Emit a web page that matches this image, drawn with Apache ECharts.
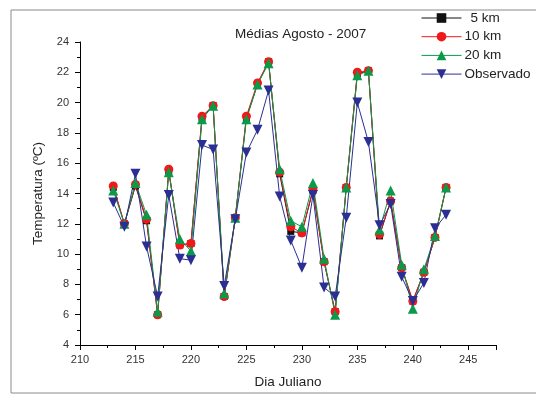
<!DOCTYPE html>
<html>
<head>
<meta charset="utf-8">
<script src="https://cdn.jsdelivr.net/npm/echarts@6/dist/echarts.min.js"></script>
<style>
  html, body { margin: 0; padding: 0; background: #fff; }
  #chart { width: 536px; height: 394px; }
</style>
</head>
<body>
<div id="chart"></div>
<script>
// Julian day of each daily mean
const days = [213, 214, 215, 216, 217, 218, 219, 220, 221, 222, 223, 224, 225, 226, 227, 228,
              229, 230, 231, 232, 233, 234, 235, 236, 237, 238, 239, 240, 241, 242, 243];

// Modelled mean temperature (ºC) at three grid resolutions
const km5  = [14.4, 12.0, 14.5, 12.2, 6.0, 15.5, 10.6, 10.7, 19.0, 19.8, 7.2, 12.4, 19.0, 21.2, 22.7, 15.3,
              11.5, 11.4, 14.2, 9.5, 6.2, 14.4, 21.9, 22.1, 11.2, 13.5, 9.1, 6.9, 8.8, 11.1, 14.4];
const km10 = [14.5, 12.0, 14.6, 12.3, 6.0, 15.6, 10.6, 10.7, 19.1, 19.8, 7.2, 12.4, 19.1, 21.3, 22.7, 15.4,
              11.8, 11.4, 14.3, 9.5, 6.2, 14.4, 22.0, 22.1, 11.3, 13.5, 9.1, 6.9, 8.8, 11.1, 14.4];
const km20 = [14.2, 12.0, 14.7, 12.6, 6.2, 15.4, 11.0, 10.2, 18.9, 19.8, 7.4, 12.4, 18.9, 21.2, 22.6, 15.6,
              12.2, 11.8, 14.7, 9.7, 6.0, 14.4, 21.8, 22.1, 11.6, 14.2, 9.3, 6.4, 9.0, 11.2, 14.4];
// Observed mean temperature (ºC)
const observado = [13.4, 11.8, 15.3, 10.5, 7.2, 13.9, 9.7, 9.6, 17.2, 16.9, 7.9, 12.3, 16.7, 18.2, 20.8, 13.8,
                   10.9, 9.1, 13.9, 7.8, 7.2, 12.4, 20.0, 17.4, 11.9, 13.3, 8.5, 6.9, 8.1, 11.7, 12.6];

const pairs = arr => days.map((d, i) => [d, arr[i]]);

const font = 'Liberation Sans, Arial, sans-serif';

function lineSeries(name, values, color, symbol, size, rotate) {
  return {
    name: name,
    type: 'line',
    data: pairs(values),
    symbol: symbol,
    symbolSize: size,
    symbolRotate: rotate || 0,
    showSymbol: true,
    lineStyle: { color: color, width: 1 },
    itemStyle: { color: color, borderWidth: 0 },
    emphasis: { disabled: true },
    animation: false
  };
}

const chart = echarts.init(document.getElementById('chart'), null, { renderer: 'canvas' });

chart.setOption({
  backgroundColor: '#ffffff',
  animation: false,
  title: {
    text: 'Médias Agosto - 2007',
    left: 230,
    top: 22,
    textStyle: { fontFamily: font, fontSize: 13.5, fontWeight: 'normal', color: '#222' }
  },
  graphic: [{
    type: 'rect',
    shape: { x: 11, y: 10, width: 600, height: 383 },
    style: { fill: 'none', stroke: '#8a8a8a', lineWidth: 1 },
    z: -1,
    silent: true
  }],
  legend: {
    orient: 'vertical',
    left: 421,
    top: 11,
    padding: 0,
    itemWidth: 40,
    itemHeight: 12,
    itemGap: 4.7,
    lineStyle: { width: 1 },
    textStyle: { fontFamily: font, fontSize: 13.5, color: '#222', padding: [0, 0, 0, -2] },
    data: [
      { name: '5 km', textStyle: { padding: [0, 0, 0, 4] } },
      { name: '10 km' },
      { name: '20 km' },
      { name: 'Observado' }
    ]
  },
  grid: { left: 80, right: 40, top: 42, bottom: 48 },
  xAxis: {
    type: 'value',
    min: 210,
    max: 247.5,
    interval: 5,
    name: 'Dia Juliano',
    nameLocation: 'middle',
    nameGap: 30,
    nameTextStyle: { fontFamily: font, fontSize: 13.5, color: '#222' },
    axisLine: { show: true, onZero: false, lineStyle: { color: '#000', width: 1 } },
    axisTick: { show: true, inside: false, length: 5, lineStyle: { color: '#000' } },
    minorTick: { show: true, splitNumber: 2, length: 3, lineStyle: { color: '#000' } },
    axisLabel: {
      margin: 9,
      fontFamily: font,
      fontSize: 11,
      color: '#333',
      formatter: v => (v % 5 === 0 ? String(v) : '')
    },
    splitLine: { show: false }
  },
  yAxis: {
    type: 'value',
    min: 4,
    max: 24,
    interval: 2,
    name: 'Temperatura (ºC)',
    nameLocation: 'middle',
    nameGap: 35,
    nameTextStyle: { fontFamily: font, fontSize: 13.5, color: '#222' },
    axisLine: { show: true, lineStyle: { color: '#000', width: 1 } },
    axisTick: { show: true, inside: false, length: 5, lineStyle: { color: '#000' } },
    minorTick: { show: true, splitNumber: 2, length: 3, lineStyle: { color: '#000' } },
    axisLabel: { margin: 11, fontFamily: font, fontSize: 11, color: '#333' },
    splitLine: { show: false }
  },
  series: [
    lineSeries('5 km', km5, '#111111', 'rect', 7),
    lineSeries('10 km', km10, '#f01818', 'circle', 9),
    lineSeries('20 km', km20, '#0a9a4a', 'triangle', 10),
    lineSeries('Observado', observado, '#2b2f93', 'triangle', 10, 180)
  ]
});
</script>
</body>
</html>
